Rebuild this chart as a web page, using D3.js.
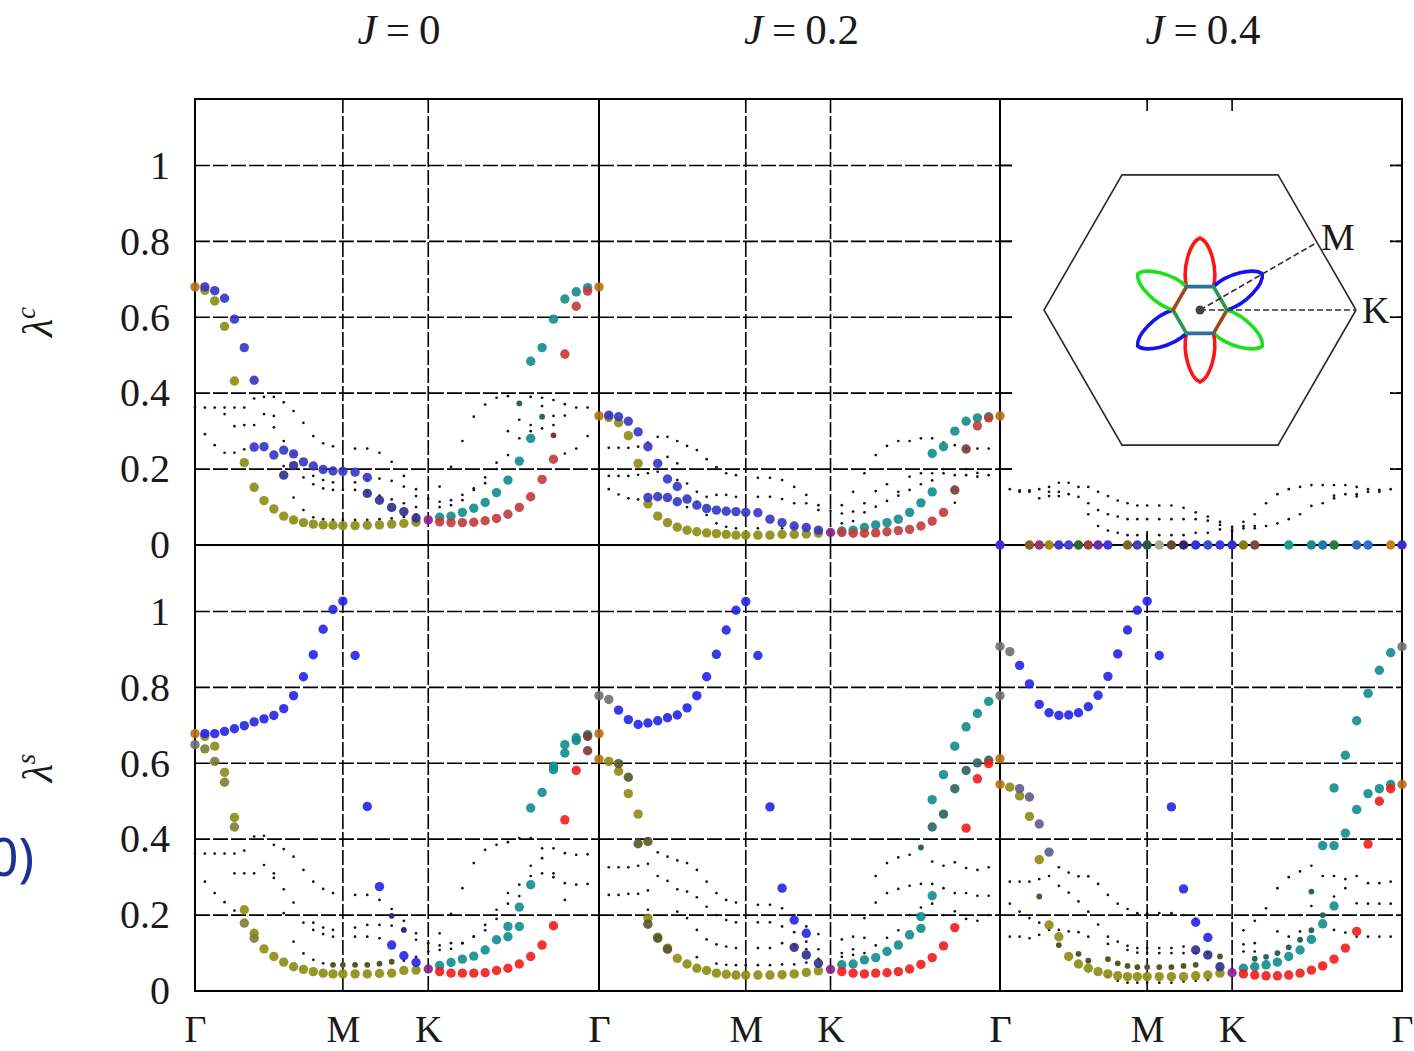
<!DOCTYPE html>
<html>
<head>
<meta charset="utf-8">
<script src="https://cdnjs.cloudflare.com/ajax/libs/d3/7.8.5/d3.min.js"></script>
<style>
  body { margin: 0; background: #fff; }
  text { font-family: "Liberation Serif", "DejaVu Serif", serif; fill: #1a1a1a; }
</style>
</head>
<body>
<svg id="chart" width="1414" height="1051"></svg>
<script>
// ---- labels ----
var jValues = ['0', '0.2', '0.4']
var kLabels = ['Γ', 'M', 'K', 'Γ']
var yTicks = [0, 0.2, 0.4, 0.6, 0.8, 1]

// momentum path Γ-M-K-Γ (path length units), sample index i = 0..37
var kM = Math.sqrt(3) / 2, kK = kM + 0.5, kG = kK + 1
var kNodes = [0, kM, kK, kG]
function kAt(i) {
  if (i <= 15) return i / 15 * kM
  if (i <= 22) return kM + (i - 15) / 7 * 0.5
  return kK + (i - 22) / 15
}

// ---- data: [k index, eigenvalue] ----
// J = 0, charge
var tlOrange = [[0, 0.68], [37, 0.68]]
var tlBlue = [[1, 0.68], [2, 0.67], [3, 0.65], [4, 0.595], [5, 0.52], [6, 0.434]]
var tlBlue2 = [[6, 0.258], [7, 0.259], [8, 0.237], [9, 0.25], [10, 0.24], [11, 0.219], [12, 0.208], [13, 0.199], [14, 0.195], [15, 0.194], [16, 0.192], [17, 0.178]]
var tlBlue3 = [[9, 0.184], [10, 0.209], [17, 0.136], [18, 0.118], [19, 0.099], [20, 0.088], [21, 0.071]]
var tlOlive = [[1, 0.671], [2, 0.643], [3, 0.576], [4, 0.432], [5, 0.217], [6, 0.152], [7, 0.117], [8, 0.095], [9, 0.076], [10, 0.066], [11, 0.059], [12, 0.055], [13, 0.053], [14, 0.052], [15, 0.051], [16, 0.051], [17, 0.052], [18, 0.053], [19, 0.055], [20, 0.057], [21, 0.06]]
var tlK = [[22, 0.066]]
var tlRed = [[23, 0.061], [24, 0.059], [25, 0.059], [26, 0.06], [27, 0.064], [28, 0.07], [29, 0.081], [30, 0.099], [31, 0.127], [32, 0.173], [33, 0.226], [34, 0.503], [35, 0.629], [36, 0.669]]
var tlDarkRed = [[33, 0.289]]
var tlTeal = [[23, 0.073], [24, 0.076], [25, 0.086], [26, 0.097], [27, 0.112], [28, 0.138], [29, 0.171], [30, 0.221], [31, 0.281]]
var tlTeal2 = [[31, 0.484], [32, 0.52], [33, 0.595], [34, 0.648], [35, 0.667], [36, 0.678]]
var tlDarkTeal = [[30, 0.373], [32, 0.338]]
var tlDots = [
  [0, 0.362], [1, 0.362], [2, 0.362], [3, 0.362], [4, 0.362], [5, 0.362], [6, 0.386], [7, 0.39], [8, 0.39], [9, 0.376], [10, 0.353], [11, 0.322], [12, 0.287], [13, 0.268], [14, 0.26], [16, 0.254], [17, 0.254], [18, 0.243], [19, 0.219], [20, 0.182], [21, 0.147], [22, 0.122], [23, 0.154], [24, 0.206], [25, 0.274], [26, 0.338], [27, 0.37], [28, 0.388], [29, 0.392], [31, 0.39], [32, 0.388], [33, 0.382], [34, 0.371], [35, 0.362], [36, 0.362],
  [3, 0.345], [4, 0.313], [5, 0.316], [6, 0.316], [7, 0.345], [8, 0.34], [8, 0.31], [9, 0.274], [10, 0.24], [11, 0.178], [12, 0.182], [13, 0.171], [14, 0.165], [16, 0.165], [17, 0.173], [18, 0.175], [19, 0.169], [20, 0.154], [21, 0.129], [23, 0.114], [24, 0.118], [25, 0.132], [26, 0.149], [27, 0.178], [28, 0.217], [29, 0.237], [30, 0.281], [31, 0.316], [32, 0.366], [33, 0.34], [34, 0.341], [35, 0.254], [36, 0.287],
  [1, 0.292], [2, 0.263], [3, 0.243], [4, 0.243], [5, 0.252], [9, 0.208], [12, 0.16], [13, 0.149], [14, 0.145], [15, 0.145], [16, 0.145], [17, 0.14], [18, 0.13], [19, 0.12], [20, 0.11], [21, 0.1], [23, 0.1], [24, 0.105], [25, 0.118], [26, 0.145], [27, 0.163], [28, 0.2], [29, 0.3], [30, 0.33], [31, 0.3], [32, 0.307], [33, 0.316], [34, 0.241],
  [10, 0.125], [11, 0.092], [12, 0.073], [13, 0.068], [14, 0.066], [15, 0.066], [16, 0.066], [17, 0.066], [18, 0.068], [19, 0.07], [20, 0.074], [21, 0.08]
]

// J = 0.2, charge
var tmOrange = [[0, 0.34], [37, 0.34]]
var tmBlue = [[1, 0.342], [2, 0.338], [3, 0.326], [4, 0.298], [5, 0.259], [6, 0.215], [7, 0.174], [8, 0.154]]
var tmBlue2 = [[5, 0.125], [6, 0.127], [7, 0.125], [8, 0.114], [9, 0.121], [10, 0.105], [11, 0.096], [12, 0.092], [13, 0.089], [14, 0.088], [15, 0.086], [16, 0.085], [17, 0.068], [18, 0.059], [19, 0.05], [20, 0.046], [21, 0.039]]
var tmOlive = [[1, 0.336], [2, 0.322], [3, 0.288], [4, 0.215], [5, 0.108], [6, 0.076], [7, 0.059], [8, 0.047], [9, 0.039], [10, 0.035], [11, 0.032], [12, 0.03], [13, 0.028], [14, 0.026], [15, 0.026], [16, 0.026], [17, 0.026], [18, 0.028], [19, 0.028], [20, 0.029], [21, 0.031]]
var tmK = [[22, 0.033]]
var tmRed = [[23, 0.033], [24, 0.031], [25, 0.031], [26, 0.032], [27, 0.035], [28, 0.038], [29, 0.041], [30, 0.05], [31, 0.063], [32, 0.086], [35, 0.314], [36, 0.335]]
var tmDarkRed = [[33, 0.145], [34, 0.253]]
var tmTeal = [[23, 0.037], [24, 0.039], [25, 0.046], [26, 0.053], [27, 0.059], [28, 0.068], [29, 0.086], [30, 0.111], [31, 0.14]]
var tmTeal2 = [[31, 0.241], [32, 0.259], [33, 0.3], [34, 0.326], [35, 0.335], [36, 0.338]]
var tmDots = [
  [1, 0.256], [2, 0.256], [3, 0.256], [4, 0.259], [5, 0.27], [6, 0.285], [7, 0.285], [8, 0.274], [9, 0.261], [10, 0.25], [11, 0.226], [12, 0.205], [13, 0.189], [14, 0.184], [16, 0.177], [17, 0.177], [18, 0.171], [19, 0.153], [20, 0.132], [21, 0.105], [22, 0.09], [23, 0.105], [24, 0.14], [25, 0.189], [26, 0.237], [27, 0.261], [28, 0.274], [29, 0.274], [30, 0.281], [31, 0.281], [32, 0.27], [33, 0.263], [34, 0.254], [35, 0.254], [36, 0.254],
  [1, 0.182], [2, 0.182], [3, 0.182], [4, 0.185], [5, 0.189], [6, 0.193], [7, 0.232], [8, 0.215], [8, 0.171], [9, 0.162], [10, 0.14], [11, 0.127], [12, 0.132], [13, 0.132], [14, 0.127], [16, 0.127], [17, 0.127], [18, 0.121], [19, 0.11], [20, 0.11], [21, 0.092], [23, 0.083], [24, 0.088], [25, 0.11], [26, 0.142], [27, 0.16], [28, 0.14], [29, 0.18], [30, 0.189], [31, 0.189], [32, 0.189], [33, 0.184], [34, 0.184], [35, 0.18], [36, 0.184],
  [1, 0.147], [2, 0.133], [3, 0.123], [4, 0.12], [9, 0.1], [10, 0.114], [11, 0.079], [12, 0.057], [13, 0.048], [14, 0.044], [16, 0.044], [18, 0.044], [19, 0.046], [23, 0.057], [24, 0.063], [25, 0.086], [26, 0.101], [27, 0.116], [28, 0.13], [29, 0.145], [30, 0.16], [31, 0.17], [32, 0.2], [33, 0.111], [34, 0.2], [35, 0.19]
]

// J = 0.4, charge: leading eigenvalues sit at zero
var trZero = [[0, 0], [3, 0], [4, 0], [5, 0], [6, 0], [7, 0], [8, 0], [9, 0], [10, 0], [11, 0], [13, 0], [14, 0], [15, 0], [16, 0], [17, 0], [18, 0], [19, 0], [20, 0], [21, 0], [22, 0], [23, 0], [24, 0], [27, 0], [29, 0], [30, 0], [31, 0], [33, 0], [34, 0], [36, 0], [37, 0]]
var trZeroColors = ['#4a2ad0', '#8a5a2a', '#a0306a', '#a08a10', '#3a3ad0', '#4444c8', '#2a6a2a', '#a03a3a', '#6a2ab0', '#3a3ad8', '#7a6a20', '#4040c0', '#2a5a3a', '#a8a890', '#6a4a2a', '#2a2a6a', '#3030e0', '#3a50d0', '#3a3ae0', '#3030d0', '#8a7a10', '#7a4a3a', '#1aa08a', '#1a8a8a', '#1a7ab0', '#2a7a3a', '#2a6ac0', '#2a70c8', '#c0801a', '#3a2ad0']
var trDots = [
  [1, 0.147], [2, 0.144], [3, 0.144], [4, 0.147], [5, 0.153], [6, 0.164], [7, 0.164], [8, 0.153], [9, 0.153], [10, 0.14], [11, 0.129], [12, 0.117], [13, 0.11], [14, 0.104], [15, 0.104], [16, 0.104], [17, 0.104], [18, 0.098], [19, 0.086], [20, 0.075], [21, 0.061], [22, 0.048], [23, 0.061], [24, 0.081], [25, 0.11], [26, 0.134], [27, 0.147], [28, 0.153], [29, 0.158], [30, 0.158], [31, 0.158], [32, 0.158], [33, 0.153], [34, 0.147], [35, 0.145], [36, 0.147],
  [2, 0.14], [3, 0.14], [4, 0.123], [5, 0.129], [5, 0.14], [6, 0.14], [6, 0.129], [7, 0.134], [8, 0.127], [9, 0.11], [10, 0.092], [11, 0.081], [12, 0.075], [13, 0.068], [14, 0.068], [15, 0.068], [16, 0.068], [17, 0.068], [18, 0.068], [19, 0.068], [20, 0.064], [21, 0.053], [22, 0.041], [23, 0.044], [24, 0.044], [25, 0.05], [26, 0.057], [27, 0.068], [28, 0.081], [29, 0.103], [30, 0.11], [31, 0.123], [31, 0.13], [32, 0.134], [33, 0.134], [33, 0.128], [34, 0.14], [35, 0.14],
  [9, 0.081], [10, 0.05], [11, 0.038], [12, 0.032], [13, 0.026], [14, 0.026], [16, 0.026], [17, 0.026], [18, 0.026], [19, 0.032], [20, 0.032], [21, 0.041], [22, 0.036], [23, 0.05], [24, 0.05]
]

// J = 0, spin
var blOrange = [[0, 0.678], [37, 0.678]]
var blGrey = [[0, 0.649]]
var blBlue = [[1, 0.678], [2, 0.678], [3, 0.684], [4, 0.691], [5, 0.699], [6, 0.709], [7, 0.717], [8, 0.726], [9, 0.744], [10, 0.778], [11, 0.828], [12, 0.886], [13, 0.953], [14, 1.005], [15, 1.027], [16, 0.884], [17, 0.486], [18, 0.275], [19, 0.121], [20, 0.093], [21, 0.075]]
var blDarkBlue = [[19, 0.198], [20, 0.161]]
var blOlive = [[1, 0.671], [2, 0.645], [3, 0.576], [4, 0.457], [5, 0.214], [6, 0.152], [7, 0.111], [8, 0.091], [9, 0.076], [10, 0.064], [11, 0.057], [12, 0.051], [13, 0.047], [14, 0.045], [15, 0.045], [16, 0.045], [17, 0.045], [18, 0.046], [19, 0.047], [20, 0.054], [21, 0.055]]
var blOlive2 = [[1, 0.638], [2, 0.605], [3, 0.55], [4, 0.432], [5, 0.179], [6, 0.139]]
var blDarkOlive = [[14, 0.069], [15, 0.069], [16, 0.069], [17, 0.069], [18, 0.072], [19, 0.077]]
var blK = [[22, 0.058]]
var blRed = [[23, 0.051], [24, 0.047], [25, 0.047], [26, 0.047], [27, 0.048], [28, 0.054], [29, 0.06], [30, 0.071], [31, 0.091], [32, 0.121], [33, 0.172], [34, 0.451], [35, 0.581]]
var blDarkRed = [[36, 0.633], [36, 0.671]]
var blTeal = [[23, 0.067], [24, 0.075], [25, 0.084], [26, 0.092], [27, 0.108], [28, 0.135], [29, 0.17], [30, 0.221], [31, 0.28]]
var blTeal2 = [[29, 0.143], [30, 0.17]]
var blTeal3 = [[31, 0.482], [32, 0.523], [33, 0.583], [33, 0.592], [34, 0.627], [34, 0.649], [35, 0.66], [35, 0.667], [36, 0.675]]
var blDots = [
  [0, 0.362], [1, 0.362], [2, 0.362], [3, 0.362], [4, 0.362], [5, 0.37], [6, 0.407], [7, 0.409], [8, 0.385], [9, 0.374], [10, 0.354], [11, 0.319], [12, 0.288], [13, 0.269], [14, 0.258], [16, 0.253], [17, 0.253], [18, 0.24], [19, 0.216], [20, 0.185], [21, 0.152], [22, 0.126], [23, 0.152], [24, 0.203], [25, 0.271], [26, 0.337], [27, 0.372], [28, 0.385], [29, 0.392], [30, 0.403], [31, 0.403], [32, 0.376], [33, 0.376], [34, 0.363], [35, 0.359], [36, 0.36],
  [4, 0.31], [5, 0.31], [6, 0.31], [7, 0.332], [8, 0.31], [8, 0.298], [9, 0.268], [10, 0.233], [11, 0.18], [12, 0.18], [13, 0.167], [14, 0.161], [16, 0.167], [17, 0.174], [18, 0.174], [19, 0.172], [20, 0.161], [21, 0.135], [23, 0.12], [24, 0.126], [25, 0.126], [26, 0.143], [27, 0.174], [28, 0.214], [29, 0.258], [30, 0.28], [31, 0.303], [32, 0.31], [33, 0.31], [34, 0.284], [35, 0.28], [36, 0.282],
  [1, 0.288], [2, 0.258], [3, 0.234], [4, 0.212], [9, 0.205], [12, 0.161], [13, 0.15], [14, 0.143], [16, 0.143], [17, 0.143], [18, 0.139], [23, 0.108], [24, 0.111], [25, 0.126], [26, 0.143], [27, 0.16], [28, 0.19], [29, 0.23], [30, 0.25], [31, 0.33], [32, 0.35], [33, 0.3], [34, 0.24],
  [10, 0.13], [11, 0.099], [12, 0.082], [13, 0.073], [20, 0.08], [21, 0.09], [22, 0.104]
]

// J = 0.2, spin
var bmGrey = [[0, 0.778], [1, 0.768], [37, 0.778]]
var bmBlue = [[2, 0.74], [3, 0.715], [4, 0.702], [5, 0.706], [6, 0.712], [7, 0.72], [8, 0.727], [9, 0.746], [10, 0.778], [11, 0.828], [12, 0.887], [13, 0.951], [14, 1.003], [15, 1.026], [16, 0.884], [17, 0.485], [18, 0.271], [19, 0.187], [20, 0.152]]
var bmBlue2 = [[19, 0.115], [20, 0.095], [21, 0.073]]
var bmOrange = [[0, 0.611], [37, 0.612]]
var bmOlive = [[1, 0.605], [2, 0.579], [3, 0.52], [4, 0.466], [5, 0.192], [6, 0.142], [7, 0.113], [8, 0.086], [9, 0.071], [10, 0.06], [11, 0.054], [12, 0.047], [13, 0.044], [14, 0.042], [15, 0.042], [16, 0.042], [17, 0.042], [18, 0.043], [19, 0.045], [20, 0.049], [21, 0.053]]
var bmDarkOlive = [[2, 0.599], [3, 0.563], [4, 0.388], [5, 0.394], [5, 0.176], [6, 0.139], [7, 0.11]]
var bmK = [[22, 0.057]]
var bmRed = [[23, 0.051], [24, 0.047], [25, 0.045], [26, 0.047], [27, 0.048], [28, 0.051], [29, 0.058], [30, 0.07], [31, 0.088], [32, 0.119], [33, 0.167], [34, 0.429], [35, 0.559], [36, 0.599]]
var bmTeal = [[23, 0.069], [24, 0.071], [25, 0.082], [26, 0.088], [27, 0.104], [28, 0.121], [29, 0.148], [30, 0.165], [30, 0.196], [31, 0.251]]
var bmTeal2 = [[31, 0.432], [32, 0.466], [33, 0.533], [34, 0.581], [35, 0.601], [36, 0.608]]
var bmTeal3 = [[31, 0.504], [32, 0.57], [33, 0.645], [34, 0.696], [35, 0.731], [36, 0.763]]
var bmDarkTeal = [[30, 0.378]]
var bmDots = [
  [1, 0.326], [2, 0.326], [3, 0.326], [4, 0.33], [5, 0.335], [6, 0.365], [7, 0.354], [8, 0.344], [9, 0.337], [10, 0.319], [11, 0.288], [12, 0.258], [13, 0.24], [14, 0.233], [16, 0.227], [17, 0.227], [18, 0.218], [19, 0.2], [20, 0.17], [21, 0.15], [23, 0.136], [24, 0.143], [25, 0.192], [26, 0.233], [27, 0.258], [28, 0.269], [29, 0.277], [30, 0.282], [31, 0.282], [32, 0.271], [33, 0.258], [34, 0.258], [35, 0.251], [36, 0.251],
  [1, 0.253], [2, 0.253], [3, 0.256], [4, 0.256], [5, 0.265], [6, 0.303], [7, 0.29], [8, 0.268], [9, 0.262], [10, 0.247], [11, 0.222], [12, 0.2], [13, 0.187], [14, 0.181], [16, 0.181], [17, 0.181], [18, 0.17], [19, 0.155], [20, 0.13], [21, 0.11], [23, 0.1], [24, 0.11], [25, 0.14], [26, 0.303], [27, 0.337], [28, 0.352], [29, 0.359], [31, 0.341], [32, 0.33], [33, 0.339], [34, 0.324], [35, 0.319], [36, 0.326],
  [5, 0.214], [8, 0.209], [9, 0.192], [10, 0.161], [11, 0.136], [12, 0.123], [13, 0.117], [14, 0.113], [16, 0.113], [17, 0.113], [18, 0.126], [19, 0.12], [20, 0.11], [23, 0.09], [24, 0.095], [25, 0.1], [26, 0.12], [27, 0.14], [28, 0.16], [29, 0.2], [30, 0.22], [31, 0.23], [32, 0.2], [33, 0.21], [34, 0.19], [35, 0.185], [36, 0.2],
  [10, 0.089], [12, 0.072], [13, 0.069], [14, 0.068], [15, 0.068], [16, 0.068], [17, 0.068], [18, 0.07], [19, 0.07], [20, 0.075], [21, 0.085]
]

// J = 0.4, spin
var brGrey = [[0, 0.908], [1, 0.894], [37, 0.907]]
var brBlue = [[2, 0.858], [3, 0.809], [4, 0.755], [5, 0.733], [6, 0.726], [7, 0.727], [8, 0.733], [9, 0.749], [10, 0.779], [11, 0.829], [12, 0.888], [13, 0.951], [14, 1.003], [15, 1.027], [16, 0.884], [17, 0.485], [18, 0.269], [19, 0.181], [20, 0.141]]
var brBlue2 = [[19, 0.108], [20, 0.095], [21, 0.064]]
var brOrange = [[0, 0.544], [37, 0.544]]
var brOlive = [[1, 0.537], [2, 0.514], [3, 0.46], [4, 0.346], [5, 0.174], [6, 0.143], [7, 0.091], [8, 0.071], [9, 0.06], [10, 0.051], [11, 0.045], [12, 0.04], [13, 0.038], [14, 0.038], [15, 0.038], [16, 0.038], [17, 0.038], [18, 0.038], [19, 0.04], [20, 0.042], [21, 0.047]]
var brGreyOlive = [[2, 0.533], [3, 0.511], [4, 0.44], [5, 0.366]]
var brDarkOlive = [[4, 0.249], [6, 0.121], [8, 0.098], [9, 0.08], [11, 0.084], [12, 0.073], [13, 0.066], [14, 0.063], [15, 0.063], [16, 0.063], [17, 0.063], [18, 0.066], [19, 0.069], [21, 0.091]]
var brK = [[22, 0.048]]
var brRed = [[23, 0.045], [24, 0.042], [25, 0.04], [26, 0.04], [27, 0.042], [28, 0.047], [29, 0.055], [30, 0.066], [31, 0.084], [32, 0.113], [33, 0.157], [34, 0.387], [35, 0.5], [36, 0.533]]
var brTeal = [[23, 0.06], [24, 0.064], [25, 0.069], [26, 0.076], [27, 0.091], [28, 0.108], [29, 0.136], [30, 0.177], [31, 0.224], [32, 0.416], [33, 0.478], [34, 0.52], [35, 0.533], [36, 0.544]]
var brTeal2 = [[30, 0.383], [31, 0.383], [31, 0.535], [32, 0.621], [33, 0.712], [34, 0.784], [35, 0.845], [36, 0.891]]
var brDarkTeal = [[24, 0.085], [25, 0.09], [26, 0.1], [27, 0.115], [28, 0.135], [29, 0.16], [29, 0.262], [30, 0.2]]
var brDots = [
  [1, 0.288], [2, 0.288], [3, 0.288], [4, 0.295], [5, 0.303], [6, 0.326], [7, 0.312], [8, 0.302], [9, 0.302], [10, 0.282], [11, 0.253], [12, 0.23], [13, 0.216], [14, 0.205], [15, 0.205], [16, 0.205], [17, 0.205], [18, 0.2], [19, 0.19], [23, 0.16], [24, 0.185], [25, 0.218], [26, 0.271], [27, 0.3], [28, 0.315], [29, 0.33], [30, 0.303], [31, 0.303], [32, 0.295], [33, 0.303], [34, 0.284], [35, 0.284], [36, 0.288],
  [1, 0.23], [2, 0.209], [3, 0.192], [4, 0.18], [6, 0.277], [7, 0.259], [8, 0.236], [9, 0.209], [10, 0.175], [11, 0.143], [12, 0.13], [13, 0.119], [14, 0.113], [15, 0.113], [16, 0.113], [17, 0.113], [18, 0.117], [23, 0.123], [24, 0.126], [26, 0.157], [28, 0.2], [29, 0.224], [31, 0.249], [32, 0.271], [33, 0.231], [34, 0.23], [35, 0.23], [36, 0.23],
  [1, 0.143], [2, 0.143], [3, 0.139], [4, 0.148], [5, 0.161], [6, 0.161], [7, 0.157], [8, 0.155], [9, 0.143], [11, 0.124], [13, 0.108], [14, 0.101], [15, 0.1], [16, 0.1], [17, 0.1], [18, 0.1], [19, 0.1], [20, 0.1], [23, 0.104], [24, 0.104], [27, 0.143], [28, 0.157], [29, 0.157], [31, 0.161], [32, 0.154], [33, 0.143], [34, 0.143], [35, 0.143], [36, 0.143],
  [11, 0.038], [12, 0.027], [13, 0.022], [14, 0.022], [15, 0.022], [16, 0.022], [17, 0.022], [18, 0.025], [19, 0.027], [20, 0.029]
]

// ---- styles ----
var col = {
  olive: '#8c8c12', olive2: '#7c7c34', darkOlive: '#55552a',
  blue: '#2424e8', blueTop: '#3434c4', darkBlue: '#2c2c8c', greyBlue: '#5c5c8c',
  teal: '#108c8c', darkTeal: '#2c6262',
  red: '#f21c1c', redTop: '#c23a3c', darkRed: '#7c3636',
  orange: '#b86e14', purple: '#8c1c8c', grey: '#707070'
}
var R_BIG = 4.7, R_MID = 2.9, R_DOT = 1.35

var colX = [195, 599, 1000, 1402]
var rows = [[99, 545], [545, 991]]
var yMax = 1.175

var panels = [
  { c: 0, r: 0, dots: tlDots,
    mid: [[tlDarkTeal, col.darkTeal], [tlDarkRed, col.darkRed]],
    big: [[tlOlive, col.olive], [tlBlue2, col.blueTop], [tlBlue3, col.darkBlue], [tlBlue, col.blueTop], [tlTeal, col.teal], [tlTeal2, col.teal], [tlRed, col.redTop], [tlK, col.purple], [tlOrange, col.orange]] },
  { c: 1, r: 0, dots: tmDots,
    mid: [],
    big: [[tmOlive, col.olive], [tmBlue2, col.blueTop], [tmBlue, col.blueTop], [tmTeal, col.teal], [tmTeal2, col.teal], [tmRed, col.redTop], [tmDarkRed, col.darkRed], [tmK, col.purple], [tmOrange, col.orange]] },
  { c: 2, r: 0, dots: trDots, mid: [], big: [], zero: true },
  { c: 0, r: 1, dots: blDots,
    mid: [[blDarkOlive, col.darkOlive], [blDarkBlue, col.darkBlue]],
    big: [[blOlive, col.olive], [blOlive2, col.olive2], [blBlue, col.blue], [blTeal, col.teal], [blTeal2, col.teal], [blTeal3, col.teal], [blRed, col.red], [blDarkRed, col.darkRed], [blK, col.purple], [blGrey, col.grey], [blOrange, col.orange]] },
  { c: 1, r: 1, dots: bmDots,
    mid: [[bmDarkTeal, col.darkTeal]],
    big: [[bmOlive, col.olive], [bmDarkOlive, col.darkOlive], [bmBlue, col.blue], [bmBlue2, col.darkBlue], [bmTeal, col.teal], [bmTeal2, col.darkTeal], [bmTeal3, col.teal], [bmRed, col.red], [bmK, col.purple], [bmGrey, col.grey], [bmOrange, col.orange]] },
  { c: 2, r: 1, dots: brDots,
    mid: [[brDarkOlive, col.darkOlive], [brDarkTeal, col.darkTeal]],
    big: [[brOlive, col.olive], [brGreyOlive, col.greyBlue], [brBlue, col.blue], [brBlue2, col.darkBlue], [brTeal, col.teal], [brTeal2, col.teal], [brRed, col.red], [brK, col.purple], [brGrey, col.grey], [brOrange, col.orange]] }
]

var svg = d3.select('#chart')

panels.forEach(function (p) {
  var x = d3.scaleLinear().domain([0, kG]).range([colX[p.c], colX[p.c + 1]])
  var y = d3.scaleLinear().domain([0, yMax]).range([rows[p.r][1], rows[p.r][0]])
  var g = svg.append('g')

  // dashed grid
  g.selectAll('line.hgrid')
    .data(yTicks.slice(1))
    .enter().append('line')
    .attr('x1', x(0)).attr('x2', x(kG))
    .attr('y1', function (d) { return y(d) }).attr('y2', function (d) { return y(d) })
    .attr('stroke', '#000').attr('stroke-width', 1.6).attr('stroke-dasharray', '15,3')
  g.selectAll('line.vgrid')
    .data([kM, kK])
    .enter().append('line')
    .attr('x1', function (d) { return x(d) }).attr('x2', function (d) { return x(d) })
    .attr('y1', y(0)).attr('y2', y(yMax))
    .attr('stroke', '#000').attr('stroke-width', 1.6).attr('stroke-dasharray', '15,3')

  p.g = g; p.x = x; p.y = y
})

// inset (Brillouin zone + Fermi pockets) on the J = 0.4 charge panel
;(function () {
  var p = panels[2]
  var x = p.x, y = p.y
  var ins = svg.append('g')
  ins.append('rect').attr('x', 1012).attr('y', 101).attr('width', 378).attr('height', 430).attr('fill', '#fff')
  // tick stubs that stay visible around the inset
  var tk = 12
  yTicks.slice(1).forEach(function (v) {
    ins.append('line').attr('x1', colX[3] - tk).attr('x2', colX[3]).attr('y1', y(v)).attr('y2', y(v))
      .attr('stroke', '#000').attr('stroke-width', 1.6)
    ins.append('line').attr('x1', colX[2]).attr('x2', colX[2] + tk).attr('y1', y(v)).attr('y2', y(v))
      .attr('stroke', '#000').attr('stroke-width', 1.6)
  })
  ;[kM, kK].forEach(function (k) {
    ins.append('line').attr('x1', x(k)).attr('x2', x(k)).attr('y1', y(0)).attr('y2', y(0) - tk)
      .attr('stroke', '#000').attr('stroke-width', 1.6)
    ins.append('line').attr('x1', x(k)).attr('x2', x(k)).attr('y1', y(yMax)).attr('y2', y(yMax) + tk)
      .attr('stroke', '#000').attr('stroke-width', 1.6)
  })

  var cx = 1200, cy = 310, rad = 156
  var hex = d3.range(7).map(function (i) {
    var a = Math.PI / 3 * i
    return [cx + rad * Math.cos(a), cy + rad * Math.sin(a)]
  })
  ins.append('path').attr('d', d3.line()(hex))
    .attr('fill', 'none').attr('stroke', '#2a2a2a').attr('stroke-width', 1.6)

  // six lobes on a small central hexagon
  var core = 27
  var lobes = [[-90, '#ff1414'], [-30, '#1414f0'], [30, '#1ce01c'], [90, '#ff1414'], [150, '#1414f0'], [210, '#1ce01c']]
  var lobePath = 'M23.4,-13.5 C42,-18 68,-10 72,0 C68,10 42,18 23.4,13.5'
  ins.selectAll('path.lobe')
    .data(lobes)
    .enter().append('path')
    .attr('d', lobePath)
    .attr('transform', function (d) { return 'translate(' + cx + ',' + cy + ') rotate(' + d[0] + ')' })
    .attr('fill', 'none').attr('stroke', function (d) { return d[1] }).attr('stroke-width', 3.6)
    .attr('stroke-linecap', 'round')
  var edgeColors = ['#9a4a1e', '#2e6e9a', '#2a9a4a', '#9a4a1e', '#2e6e9a', '#2a9a4a']
  d3.range(6).forEach(function (i) {
    var a0 = Math.PI / 3 * i, a1 = Math.PI / 3 * (i + 1)
    ins.append('line')
      .attr('x1', cx + core * Math.cos(a0)).attr('y1', cy + core * Math.sin(a0))
      .attr('x2', cx + core * Math.cos(a1)).attr('y2', cy + core * Math.sin(a1))
      .attr('stroke', edgeColors[i]).attr('stroke-width', 3.6).attr('stroke-linecap', 'round')
  })

  var mPt = [(hex[5][0] + hex[6][0]) / 2, (hex[5][1] + hex[6][1]) / 2]
  var kPt = hex[0]
  ins.selectAll('line.path')
    .data([mPt, kPt])
    .enter().append('line')
    .attr('x1', cx).attr('y1', cy)
    .attr('x2', function (d) { return d[0] }).attr('y2', function (d) { return d[1] })
    .attr('stroke', '#333').attr('stroke-width', 1.5).attr('stroke-dasharray', '6,3')
  ins.append('circle').attr('cx', cx).attr('cy', cy).attr('r', 4.5).attr('fill', '#444')
  ins.append('text').attr('x', mPt[0] + 4).attr('y', mPt[1] + 8).attr('font-size', 38).text('M')
  ins.append('text').attr('x', kPt[0] + 6).attr('y', kPt[1] + 13).attr('font-size', 38).text('K')
})()

// frames
panels.forEach(function (p) {
  p.g.append('rect')
    .attr('x', colX[p.c]).attr('y', rows[p.r][0])
    .attr('width', colX[p.c + 1] - colX[p.c]).attr('height', rows[p.r][1] - rows[p.r][0])
    .attr('fill', 'none').attr('stroke', '#000').attr('stroke-width', 2)
})

// points
panels.forEach(function (p) {
  var x = p.x, y = p.y
  var pg = svg.append('g')
  pg.selectAll('circle.dot')
    .data(p.dots)
    .enter().append('circle')
    .attr('cx', function (d) { return x(kAt(d[0])) })
    .attr('cy', function (d) { return y(d[1]) })
    .attr('r', R_DOT).attr('fill', '#111')
  p.mid.forEach(function (s) {
    pg.selectAll(null)
      .data(s[0])
      .enter().append('circle')
      .attr('cx', function (d) { return x(kAt(d[0])) })
      .attr('cy', function (d) { return y(d[1]) })
      .attr('r', R_MID).attr('fill', s[1])
  })
  p.big.forEach(function (s) {
    pg.selectAll(null)
      .data(s[0])
      .enter().append('circle')
      .attr('cx', function (d) { return x(kAt(d[0])) })
      .attr('cy', function (d) { return y(d[1]) })
      .attr('r', R_BIG).attr('fill', s[1]).attr('fill-opacity', 0.9)
  })
  if (p.zero) {
    pg.selectAll(null)
      .data(trZero)
      .enter().append('circle')
      .attr('cx', function (d) { return x(kAt(d[0])) })
      .attr('cy', function (d) { return y(d[1]) })
      .attr('r', R_BIG)
      .attr('fill', function (d, i) { return trZeroColors[i] })
  }
})

// axes
rows.forEach(function (rw, r) {
  var y = d3.scaleLinear().domain([0, yMax]).range([rw[1], rw[0]])
  var ax = svg.append('g')
    .attr('transform', 'translate(' + colX[0] + ',0)')
    .call(d3.axisLeft(y).tickValues(yTicks).tickFormat(d3.format('~g')).tickSize(0).tickPadding(25))
  ax.select('.domain').remove()
  ax.selectAll('text').attr('font-size', 40).attr('font-family', 'Liberation Serif').attr('fill', '#222')
})
;[0, 1, 2].forEach(function (c) {
  var x = d3.scaleLinear().domain([0, kG]).range([colX[c], colX[c + 1]])
  var ax = svg.append('g')
    .attr('transform', 'translate(0,' + rows[1][1] + ')')
    .call(d3.axisBottom(x).tickValues(kNodes).tickFormat(function (d, i) { return kLabels[i] }).tickSize(0).tickPadding(24))
  ax.select('.domain').remove()
  ax.selectAll('text').attr('font-size', 38).attr('font-family', 'Liberation Serif').attr('fill', '#222')
})

// column titles
jValues.forEach(function (v, c) {
  var t = svg.append('text')
    .attr('x', (colX[c] + colX[c + 1]) / 2 + 2).attr('y', 44)
    .attr('text-anchor', 'middle').attr('font-size', 43).attr('fill', '#222')
  t.append('tspan').attr('font-style', 'italic').text('J')
  t.append('tspan').attr('dx', 9).text('=')
  t.append('tspan').attr('dx', 9).text(v)
})

// row labels
;[['c', 322], ['s', 768]].forEach(function (d) {
  var t = svg.append('text')
    .attr('transform', 'translate(52,' + d[1] + ') rotate(-90)')
    .attr('text-anchor', 'middle').attr('font-size', 42).attr('fill', '#222')
  t.append('tspan').attr('font-style', 'italic').text('λ')
  t.append('tspan').attr('font-style', 'italic').attr('font-size', 27).attr('dy', -17).text(d[0])
})

// cropped caption fragment at the left edge (also cut off in the original)
svg.append('text')
  .attr('x', 34).attr('y', 876).attr('text-anchor', 'end')
  .attr('font-size', 52)
  .style('font-family', 'Noto Sans, sans-serif').style('fill', '#1c2f95')
  .text('0)')
</script>
</body>
</html>
